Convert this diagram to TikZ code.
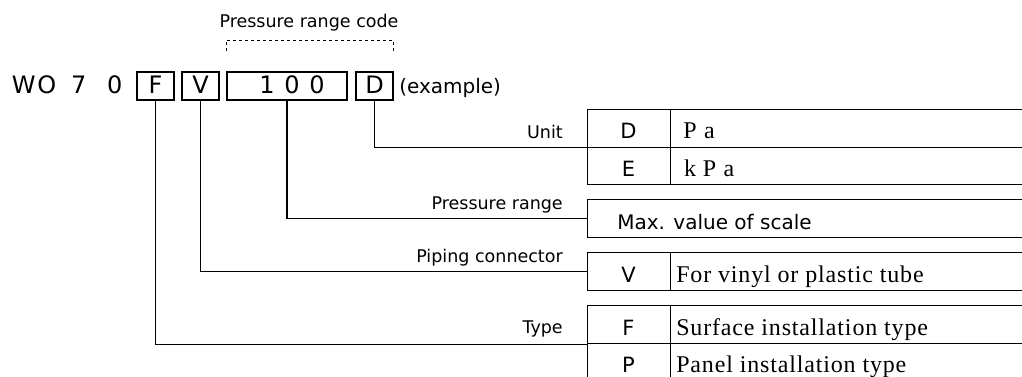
\documentclass[tikz,border=0pt]{standalone}
\usepackage{fontspec}
\usetikzlibrary{calc}
\newfontfamily\sansf{DejaVu Sans}
\newfontfamily\seriff[LetterSpace=3.5]{Liberation Serif}
\newdimen\pxu \pxu=0.75pt
\begin{document}
\begin{tikzpicture}[x=0.75pt,y=-0.75pt,
  ln/.style={line width=0.9pt, draw=black},
  topbox/.style={draw, ln, inner sep=0pt, minimum height=28\pxu},
  cell/.style={draw, ln, inner sep=0pt, anchor=north west, minimum height=37.5\pxu},
  codecell/.style={cell, minimum width=83\pxu},
  desccell/.style={cell, minimum width=360\pxu},
  lbl/.style={font=\sansf\fontsize{13.125}{15}\selectfont, inner sep=0pt, anchor=base east},
  codetxt/.style={font=\sansf\fontsize{15.75}{18}\selectfont, inner sep=0pt, anchor=base},
  desctxt/.style={font=\seriff\fontsize{18}{21}\selectfont, inner sep=0pt, anchor=base west},
  toptxt/.style={font=\sansf\fontsize{18}{21}\selectfont, inner sep=0pt, anchor=base},
  conn/.style={ln},
  brk/.style={line width=0.6pt, dash pattern=on 2.25pt off 2.25pt}
]
\useasboundingbox (0,0) rectangle (1022,376);

% model code
\node[toptxt, anchor=base west] (wo) at (11.5,93) {W\hspace{2\pxu}O\hspace{14.8\pxu}7\hspace{20.8\pxu}0};
\node[topbox, minimum width=37\pxu] (bF) at (155.5,86) {};
\node[topbox, minimum width=37\pxu] (bV) at (200.5,86) {};
\node[topbox, minimum width=120\pxu] (b100) at (287,86) {};
\node[topbox, minimum width=37\pxu] (bD) at (374.5,86) {};
\node[toptxt] (tF) at (155.5,93) {F};
\node[toptxt] (tV) at (200.5,93) {V};
\node[toptxt] (t100) at (292,93) {1\hspace{9.7\pxu}0\hspace{9.7\pxu}0};
\node[toptxt] (tD) at (374.5,93) {D};
\node[font=\sansf\fontsize{15}{18}\selectfont, inner sep=0pt, anchor=base west] (ex) at (399,93) {(example)};

% pressure range code bracket
\node[lbl, anchor=base] (prc) at (309,27) {Pressure range code};
\draw[brk] ($(b100.north west)+(0,-20)$) -- ++(0,-11) -| ($(bD.north east)+(0,-20)$);

% tables
\node[codecell] (uD) at (587,109) {};
\node[desccell] (uDd) at (670,109) {};
\node[codecell] (uE) at (587,146.5) {};
\node[desccell] (uEd) at (670,146.5) {};
\node[cell, minimum width=443\pxu, minimum height=38\pxu] (pr) at (587,199) {};
\node[codecell, minimum height=38\pxu] (pV) at (587,252) {};
\node[desccell, minimum height=38\pxu] (pVd) at (670,252) {};
\node[codecell, minimum height=38\pxu] (tFc) at (587,305) {};
\node[desccell, minimum height=38\pxu] (tFd) at (670,305) {};
\node[codecell, minimum height=38\pxu] (tPc) at (587,343) {};
\node[desccell, minimum height=38\pxu] (tPd) at (670,343) {};

% table texts
\node[codetxt] (cD) at (628.5,138) {D};
\node[desctxt] (dD) at (680,138) {\makebox[19.5\pxu]{P}\makebox[19.5\pxu]{a}};
\node[codetxt] (cE) at (628.5,176.5) {E};
\node[desctxt] (dE) at (680,176.5) {\makebox[19.5\pxu]{k}\makebox[19.5\pxu]{P}\makebox[19.5\pxu]{a}};
\node[codetxt, font=\sansf\fontsize{15}{18}\selectfont, anchor=base west] (mx) at (617,229) {Max. value of scale};
\node[codetxt] (cV) at (628.5,282) {V};
\node[desctxt] (dV) at (676,282) {For vinyl or plastic tube};
\node[codetxt] (cF) at (628.5,335) {F};
\node[desctxt] (dF) at (676,335) {Surface installation type};
\node[codetxt] (cP) at (628.5,372) {P};
\node[desctxt] (dP) at (676,372) {Panel installation type};

% left labels
\node[lbl] (lU) at (563,138) {Unit};
\node[lbl] (lPR) at (563,209) {Pressure range};
\node[lbl] (lPC) at (563,262.5) {Piping connector};
\node[lbl] (lT) at (563,333) {Type};

% connectors
\draw[conn] (bD.south) |- (uD.south west);
\draw[conn] (b100.south) |- (pr.west);
\draw[conn] (bV.south) |- (pV.west);
\draw[conn] (bF.south) |- (tFc.south west);
\end{tikzpicture}
\end{document}
